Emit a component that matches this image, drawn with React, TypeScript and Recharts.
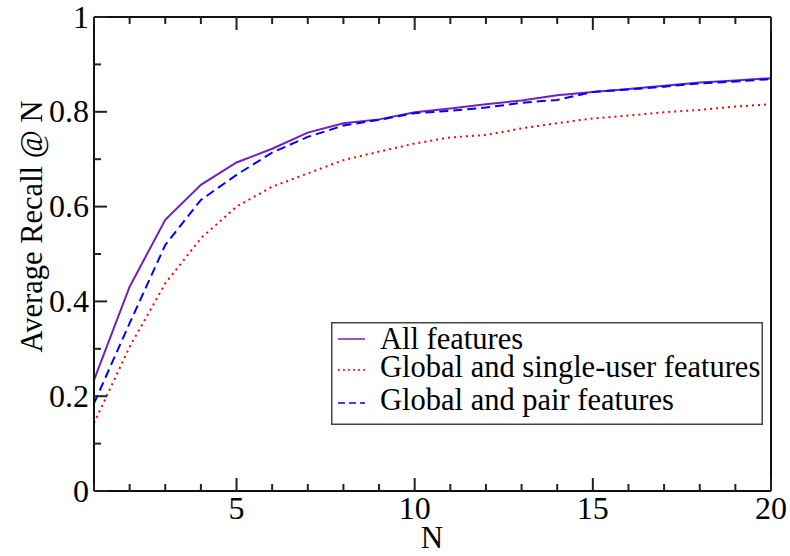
import React from "react";
import { LineChart, Line, XAxis, YAxis } from "recharts";

const nValues = [1, 2, 3, 4, 5, 6, 7, 8, 9, 10, 11, 12, 13, 14, 15, 16, 17, 18, 19, 20];
const allFeatures = [0.234, 0.431, 0.572, 0.646, 0.693, 0.722, 0.756, 0.776, 0.784, 0.799, 0.807, 0.816, 0.824, 0.835, 0.842, 0.848, 0.855, 0.862, 0.866, 0.871];
const singleUser = [0.143, 0.304, 0.438, 0.533, 0.6, 0.642, 0.67, 0.698, 0.716, 0.733, 0.746, 0.751, 0.765, 0.776, 0.786, 0.792, 0.799, 0.804, 0.811, 0.816];
const pairFeatures = [0.185, 0.354, 0.519, 0.614, 0.667, 0.714, 0.747, 0.771, 0.783, 0.797, 0.802, 0.809, 0.819, 0.825, 0.842, 0.847, 0.853, 0.86, 0.864, 0.869];

const xTicks = nValues;
const xLabelTicks = [5, 10, 15, 20];
const yTicks = [0, 0.1, 0.2, 0.3, 0.4, 0.5, 0.6, 0.7, 0.8, 0.9, 1];
const yLabelTicks = [0, 0.2, 0.4, 0.6, 0.8, 1];

const seriesNames = ["All features", "Global and single-user features", "Global and pair features"];
const seriesColors = ["#7221BC", "#FF0000", "#0000FF"];
const seriesDash = [undefined, "2 4", "9 5"];
const legendDash = [undefined, "2 3", "7 4"];

const data = nValues.map((n, i) => ({
  n,
  all: allFeatures[i],
  single: singleUser[i],
  pair: pairFeatures[i],
}));

const FONT = "'Liberation Serif', 'Times New Roman', 'DejaVu Serif', serif";
const TICK_COLOR = "#222";
const MAJOR = 13;
const MINOR = 7;

const near = (v: number, arr: number[]) => arr.some((a) => Math.abs(a - v) < 1e-6);
const fmtY = (v: number) => (Math.abs(v) < 1e-9 ? "0" : Math.abs(v - 1) < 1e-9 ? "1" : String(Math.round(v * 10) / 10));

const BottomTick = (props: any) => {
  const { x, y, payload } = props;
  const v = payload.value;
  const major = near(v, xLabelTicks);
  return (
    <g>
      <line x1={x} y1={y} x2={x} y2={y - (major ? MAJOR : MINOR)} stroke={TICK_COLOR} strokeWidth={2} />
      {major && (
        <text x={x} y={y + 28} textAnchor="middle" fontFamily={FONT} fontSize={32} fill="#000">
          {v}
        </text>
      )}
    </g>
  );
};

const TopTick = (props: any) => {
  const { x, y, payload } = props;
  const major = near(payload.value, xLabelTicks);
  return <line x1={x} y1={y} x2={x} y2={y + (major ? MAJOR : MINOR)} stroke={TICK_COLOR} strokeWidth={2} />;
};

const LeftTick = (props: any) => {
  const { x, y, payload } = props;
  const v = payload.value;
  const major = near(v, yLabelTicks);
  return (
    <g>
      <line x1={x} y1={y} x2={x + (major ? MAJOR : MINOR)} y2={y} stroke={TICK_COLOR} strokeWidth={2} />
      {major && (
        <text x={x - 5} y={y + 10.5} textAnchor="end" fontFamily={FONT} fontSize={32} fill="#000">
          {fmtY(v)}
        </text>
      )}
    </g>
  );
};

const RightTick = (props: any) => {
  const { x, y, payload } = props;
  const major = near(payload.value, yLabelTicks);
  return <line x1={x} y1={y} x2={x - (major ? MAJOR : MINOR)} y2={y} stroke={TICK_COLOR} strokeWidth={2} />;
};

export default function App() {
  const rows = [17, 48, 81];
  const baselines = [27, 55, 88];
  return (
    <div style={{ position: "absolute", left: 0, top: 0, width: 790, height: 556, background: "#fff" }}>
      <LineChart width={790} height={556} data={data} margin={{ top: 16, right: 18, left: 0, bottom: 0 }}>
        <XAxis
          dataKey="n"
          type="number"
          domain={[1, 20]}
          ticks={xTicks}
          interval={0}
          height={65}
          tickSize={0}
          tickMargin={0}
          tick={<BottomTick />}
          axisLine={{ stroke: "#111", strokeWidth: 2 }}
          tickLine={false}
        />
        <XAxis
          xAxisId="top"
          orientation="top"
          dataKey="n"
          type="number"
          domain={[1, 20]}
          ticks={xTicks}
          interval={0}
          height={1}
          tickSize={0}
          tickMargin={0}
          tick={<TopTick />}
          axisLine={{ stroke: "#111", strokeWidth: 2 }}
          tickLine={false}
        />
        <YAxis
          type="number"
          domain={[0, 1]}
          ticks={yTicks}
          interval={0}
          width={94}
          tickSize={0}
          tickMargin={0}
          tick={<LeftTick />}
          axisLine={{ stroke: "#111", strokeWidth: 2 }}
          tickLine={false}
        />
        <YAxis
          yAxisId="right"
          orientation="right"
          type="number"
          domain={[0, 1]}
          ticks={yTicks}
          interval={0}
          width={1}
          tickSize={0}
          tickMargin={0}
          tick={<RightTick />}
          axisLine={{ stroke: "#111", strokeWidth: 2 }}
          tickLine={false}
        />
        <Line dataKey="all" name={seriesNames[0]} stroke={seriesColors[0]} strokeWidth={2} dot={false} isAnimationActive={false} />
        <Line dataKey="single" name={seriesNames[1]} stroke={seriesColors[1]} strokeWidth={2} strokeDasharray={seriesDash[1]} dot={false} isAnimationActive={false} />
        <Line dataKey="pair" name={seriesNames[2]} stroke={seriesColors[2]} strokeWidth={2} strokeDasharray={seriesDash[2]} dot={false} isAnimationActive={false} />
        <g transform="translate(331,322)">
          <rect x={0.75} y={0.75} width={430.5} height={101.5} fill="#fff" stroke="#444" strokeWidth={1.5} />
          {seriesNames.map((name, i) => (
            <g key={name}>
              <line x1={7} x2={34} y1={rows[i]} y2={rows[i]} stroke={seriesColors[i]} strokeWidth={1.5} strokeDasharray={legendDash[i]} />
              <text x={49} y={baselines[i]} fontFamily={FONT} fontSize={30.5} fill="#000">
                {name}
              </text>
            </g>
          ))}
        </g>
        <text x={432} y={548} textAnchor="middle" fontFamily={FONT} fontSize={31} fill="#000">
          N
        </text>
        <text transform="translate(42,226.5) rotate(-90)" x={0} y={0} textAnchor="middle" fontFamily={FONT} fontSize={30.5} fill="#000">
          Average Recall @ N
        </text>
      </LineChart>
    </div>
  );
}
